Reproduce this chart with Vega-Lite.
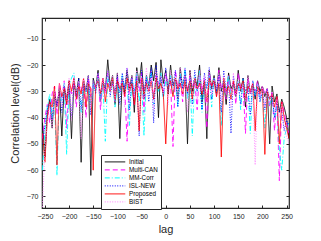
{
"$schema": "https://vega.github.io/schema/vega-lite/v6.json",
"autosize": "none",
"padding": {"left": 42, "top": 18, "right": 32, "bottom": 33},
"width": 247,
"height": 190,
"config": {
  "view": {"stroke": "#262626", "strokeWidth": 1.2},
  "font": "Liberation Sans",
  "axis": {"labelFont": "Liberation Sans", "labelFontSize": 7, "labelColor": "#262626", "titleFont": "Liberation Sans", "titleFontSize": 11, "titleFontWeight": "normal", "titleColor": "#262626", "domain": false, "grid": false, "tickColor": "#262626", "tickSize": -3, "tickWidth": 1}
},
"data": {"values": [
{"s":"Initial","x":-255,"y":-42},{"s":"Initial","x":-250,"y":-55},{"s":"Initial","x":-245,"y":-38},{"s":"Initial","x":-240,"y":-33},{"s":"Initial","x":-235,"y":-44},{"s":"Initial","x":-230,"y":-30},{"s":"Initial","x":-225,"y":-36},{"s":"Initial","x":-220,"y":-29},{"s":"Initial","x":-215,"y":-47},{"s":"Initial","x":-210,"y":-28},
{"s":"Initial","x":-205,"y":-33},{"s":"Initial","x":-200,"y":-26},{"s":"Initial","x":-195,"y":-48},{"s":"Initial","x":-190,"y":-27},{"s":"Initial","x":-185,"y":-31},{"s":"Initial","x":-180,"y":-25},{"s":"Initial","x":-175,"y":-57},{"s":"Initial","x":-170,"y":-26},{"s":"Initial","x":-165,"y":-30},{"s":"Initial","x":-160,"y":-24},
{"s":"Initial","x":-155,"y":-62},{"s":"Initial","x":-150,"y":-25},{"s":"Initial","x":-145,"y":-29},{"s":"Initial","x":-140,"y":-22},{"s":"Initial","x":-135,"y":-34},{"s":"Initial","x":-130,"y":-26},{"s":"Initial","x":-125,"y":-30},{"s":"Initial","x":-120,"y":-18},{"s":"Initial","x":-115,"y":-28},{"s":"Initial","x":-110,"y":-24},
{"s":"Initial","x":-105,"y":-35},{"s":"Initial","x":-100,"y":-23},{"s":"Initial","x":-95,"y":-48},{"s":"Initial","x":-90,"y":-25},{"s":"Initial","x":-85,"y":-31},{"s":"Initial","x":-80,"y":-22},{"s":"Initial","x":-75,"y":-29},{"s":"Initial","x":-70,"y":-24},{"s":"Initial","x":-65,"y":-38},{"s":"Initial","x":-60,"y":-21},
{"s":"Initial","x":-55,"y":-27},{"s":"Initial","x":-50,"y":-19},{"s":"Initial","x":-45,"y":-33},{"s":"Initial","x":-40,"y":-24},{"s":"Initial","x":-35,"y":-28},{"s":"Initial","x":-30,"y":-20},{"s":"Initial","x":-25,"y":-26},{"s":"Initial","x":-20,"y":-19},{"s":"Initial","x":-15,"y":-40},{"s":"Initial","x":-10,"y":-18},
{"s":"Initial","x":-5,"y":-27},{"s":"Initial","x":0,"y":-22},{"s":"Initial","x":5,"y":-31},{"s":"Initial","x":10,"y":-20},{"s":"Initial","x":15,"y":-28},{"s":"Initial","x":20,"y":-25},{"s":"Initial","x":25,"y":-33},{"s":"Initial","x":30,"y":-21},{"s":"Initial","x":35,"y":-29},{"s":"Initial","x":40,"y":-24},
{"s":"Initial","x":45,"y":-50},{"s":"Initial","x":50,"y":-22},{"s":"Initial","x":55,"y":-30},{"s":"Initial","x":60,"y":-25},{"s":"Initial","x":65,"y":-28},{"s":"Initial","x":70,"y":-20},{"s":"Initial","x":75,"y":-34},{"s":"Initial","x":80,"y":-26},{"s":"Initial","x":85,"y":-48},{"s":"Initial","x":90,"y":-22},
{"s":"Initial","x":95,"y":-29},{"s":"Initial","x":100,"y":-24},{"s":"Initial","x":105,"y":-31},{"s":"Initial","x":110,"y":-21},{"s":"Initial","x":115,"y":-30},{"s":"Initial","x":120,"y":-26},{"s":"Initial","x":125,"y":-35},{"s":"Initial","x":130,"y":-23},{"s":"Initial","x":135,"y":-29},{"s":"Initial","x":140,"y":-27},
{"s":"Initial","x":145,"y":-32},{"s":"Initial","x":150,"y":-22},{"s":"Initial","x":155,"y":-30},{"s":"Initial","x":160,"y":-25},{"s":"Initial","x":165,"y":-36},{"s":"Initial","x":170,"y":-24},{"s":"Initial","x":175,"y":-31},{"s":"Initial","x":180,"y":-27},{"s":"Initial","x":185,"y":-33},{"s":"Initial","x":190,"y":-26},
{"s":"Initial","x":195,"y":-30},{"s":"Initial","x":200,"y":-28},{"s":"Initial","x":205,"y":-32},{"s":"Initial","x":210,"y":-29},{"s":"Initial","x":215,"y":-50},{"s":"Initial","x":220,"y":-28},{"s":"Initial","x":225,"y":-34},{"s":"Initial","x":230,"y":-31},{"s":"Initial","x":235,"y":-38},{"s":"Initial","x":240,"y":-33},
{"s":"Initial","x":245,"y":-36},{"s":"Initial","x":250,"y":-40},{"s":"Initial","x":255,"y":-48},

{"s":"Multi-CAN","x":-255,"y":-48},{"s":"Multi-CAN","x":-250,"y":-40},{"s":"Multi-CAN","x":-245,"y":-35},{"s":"Multi-CAN","x":-240,"y":-42},{"s":"Multi-CAN","x":-235,"y":-31},{"s":"Multi-CAN","x":-230,"y":-28},{"s":"Multi-CAN","x":-225,"y":-39},{"s":"Multi-CAN","x":-220,"y":-27},{"s":"Multi-CAN","x":-215,"y":-33},{"s":"Multi-CAN","x":-210,"y":-26},
{"s":"Multi-CAN","x":-205,"y":-44},{"s":"Multi-CAN","x":-200,"y":-28},{"s":"Multi-CAN","x":-195,"y":-31},{"s":"Multi-CAN","x":-190,"y":-25},{"s":"Multi-CAN","x":-185,"y":-36},{"s":"Multi-CAN","x":-180,"y":-27},{"s":"Multi-CAN","x":-175,"y":-30},{"s":"Multi-CAN","x":-170,"y":-26},{"s":"Multi-CAN","x":-165,"y":-40},{"s":"Multi-CAN","x":-160,"y":-25},
{"s":"Multi-CAN","x":-155,"y":-32},{"s":"Multi-CAN","x":-150,"y":-27},{"s":"Multi-CAN","x":-145,"y":-29},{"s":"Multi-CAN","x":-140,"y":-24},{"s":"Multi-CAN","x":-135,"y":-37},{"s":"Multi-CAN","x":-130,"y":-26},{"s":"Multi-CAN","x":-125,"y":-31},{"s":"Multi-CAN","x":-120,"y":-23},{"s":"Multi-CAN","x":-115,"y":-29},{"s":"Multi-CAN","x":-110,"y":-27},
{"s":"Multi-CAN","x":-105,"y":-34},{"s":"Multi-CAN","x":-100,"y":-25},{"s":"Multi-CAN","x":-95,"y":-30},{"s":"Multi-CAN","x":-90,"y":-26},{"s":"Multi-CAN","x":-85,"y":-28},{"s":"Multi-CAN","x":-80,"y":-49},{"s":"Multi-CAN","x":-75,"y":-27},{"s":"Multi-CAN","x":-70,"y":-25},{"s":"Multi-CAN","x":-65,"y":-35},{"s":"Multi-CAN","x":-60,"y":-24},
{"s":"Multi-CAN","x":-55,"y":-30},{"s":"Multi-CAN","x":-50,"y":-23},{"s":"Multi-CAN","x":-45,"y":-38},{"s":"Multi-CAN","x":-40,"y":-26},{"s":"Multi-CAN","x":-35,"y":-29},{"s":"Multi-CAN","x":-30,"y":-22},{"s":"Multi-CAN","x":-25,"y":-33},{"s":"Multi-CAN","x":-20,"y":-24},{"s":"Multi-CAN","x":-15,"y":-27},{"s":"Multi-CAN","x":-10,"y":-25},
{"s":"Multi-CAN","x":-5,"y":-31},{"s":"Multi-CAN","x":0,"y":-23},{"s":"Multi-CAN","x":5,"y":-28},{"s":"Multi-CAN","x":10,"y":-26},{"s":"Multi-CAN","x":15,"y":-51},{"s":"Multi-CAN","x":20,"y":-22},{"s":"Multi-CAN","x":25,"y":-29},{"s":"Multi-CAN","x":30,"y":-25},{"s":"Multi-CAN","x":35,"y":-34},{"s":"Multi-CAN","x":40,"y":-21},
{"s":"Multi-CAN","x":45,"y":-30},{"s":"Multi-CAN","x":50,"y":-24},{"s":"Multi-CAN","x":55,"y":-28},{"s":"Multi-CAN","x":60,"y":-26},{"s":"Multi-CAN","x":65,"y":-37},{"s":"Multi-CAN","x":70,"y":-22},{"s":"Multi-CAN","x":75,"y":-30},{"s":"Multi-CAN","x":80,"y":-25},{"s":"Multi-CAN","x":85,"y":-44},{"s":"Multi-CAN","x":90,"y":-23},
{"s":"Multi-CAN","x":95,"y":-28},{"s":"Multi-CAN","x":100,"y":-26},{"s":"Multi-CAN","x":105,"y":-32},{"s":"Multi-CAN","x":110,"y":-22},{"s":"Multi-CAN","x":115,"y":-29},{"s":"Multi-CAN","x":120,"y":-27},{"s":"Multi-CAN","x":125,"y":-33},{"s":"Multi-CAN","x":130,"y":-24},{"s":"Multi-CAN","x":135,"y":-30},{"s":"Multi-CAN","x":140,"y":-26},
{"s":"Multi-CAN","x":145,"y":-35},{"s":"Multi-CAN","x":150,"y":-23},{"s":"Multi-CAN","x":155,"y":-29},{"s":"Multi-CAN","x":160,"y":-28},{"s":"Multi-CAN","x":165,"y":-46},{"s":"Multi-CAN","x":170,"y":-25},{"s":"Multi-CAN","x":175,"y":-31},{"s":"Multi-CAN","x":180,"y":-27},{"s":"Multi-CAN","x":185,"y":-30},{"s":"Multi-CAN","x":190,"y":-26},
{"s":"Multi-CAN","x":195,"y":-33},{"s":"Multi-CAN","x":200,"y":-28},{"s":"Multi-CAN","x":205,"y":-31},{"s":"Multi-CAN","x":210,"y":-29},{"s":"Multi-CAN","x":215,"y":-36},{"s":"Multi-CAN","x":220,"y":-30},{"s":"Multi-CAN","x":225,"y":-45},{"s":"Multi-CAN","x":230,"y":-32},{"s":"Multi-CAN","x":235,"y":-64},{"s":"Multi-CAN","x":240,"y":-34},
{"s":"Multi-CAN","x":245,"y":-38},{"s":"Multi-CAN","x":250,"y":-42},{"s":"Multi-CAN","x":255,"y":-46},

{"s":"MM-Corr","x":-255,"y":-60},{"s":"MM-Corr","x":-250,"y":-45},{"s":"MM-Corr","x":-245,"y":-36},{"s":"MM-Corr","x":-240,"y":-31},{"s":"MM-Corr","x":-235,"y":-40},{"s":"MM-Corr","x":-230,"y":-33},{"s":"MM-Corr","x":-225,"y":-62},{"s":"MM-Corr","x":-220,"y":-29},{"s":"MM-Corr","x":-215,"y":-34},{"s":"MM-Corr","x":-210,"y":-27},
{"s":"MM-Corr","x":-205,"y":-54},{"s":"MM-Corr","x":-200,"y":-28},{"s":"MM-Corr","x":-195,"y":-25},{"s":"MM-Corr","x":-190,"y":-23},{"s":"MM-Corr","x":-185,"y":-32},{"s":"MM-Corr","x":-180,"y":-29},{"s":"MM-Corr","x":-175,"y":-38},{"s":"MM-Corr","x":-170,"y":-26},{"s":"MM-Corr","x":-165,"y":-31},{"s":"MM-Corr","x":-160,"y":-28},
{"s":"MM-Corr","x":-155,"y":-35},{"s":"MM-Corr","x":-150,"y":-27},{"s":"MM-Corr","x":-145,"y":-30},{"s":"MM-Corr","x":-140,"y":-25},{"s":"MM-Corr","x":-135,"y":-33},{"s":"MM-Corr","x":-130,"y":-27},{"s":"MM-Corr","x":-125,"y":-49},{"s":"MM-Corr","x":-120,"y":-24},{"s":"MM-Corr","x":-115,"y":-30},{"s":"MM-Corr","x":-110,"y":-26},
{"s":"MM-Corr","x":-105,"y":-36},{"s":"MM-Corr","x":-100,"y":-27},{"s":"MM-Corr","x":-95,"y":-31},{"s":"MM-Corr","x":-90,"y":-24},{"s":"MM-Corr","x":-85,"y":-29},{"s":"MM-Corr","x":-80,"y":-26},{"s":"MM-Corr","x":-75,"y":-43},{"s":"MM-Corr","x":-70,"y":-25},{"s":"MM-Corr","x":-65,"y":-30},{"s":"MM-Corr","x":-60,"y":-23},
{"s":"MM-Corr","x":-55,"y":-34},{"s":"MM-Corr","x":-50,"y":-26},{"s":"MM-Corr","x":-45,"y":-47},{"s":"MM-Corr","x":-40,"y":-24},{"s":"MM-Corr","x":-35,"y":-29},{"s":"MM-Corr","x":-30,"y":-22},{"s":"MM-Corr","x":-25,"y":-35},{"s":"MM-Corr","x":-20,"y":-25},{"s":"MM-Corr","x":-15,"y":-30},{"s":"MM-Corr","x":-10,"y":-23},
{"s":"MM-Corr","x":-5,"y":-33},{"s":"MM-Corr","x":0,"y":-26},{"s":"MM-Corr","x":5,"y":-28},{"s":"MM-Corr","x":10,"y":-24},{"s":"MM-Corr","x":15,"y":-31},{"s":"MM-Corr","x":20,"y":-25},{"s":"MM-Corr","x":25,"y":-36},{"s":"MM-Corr","x":30,"y":-23},{"s":"MM-Corr","x":35,"y":-29},{"s":"MM-Corr","x":40,"y":-21},
{"s":"MM-Corr","x":45,"y":-33},{"s":"MM-Corr","x":50,"y":-25},{"s":"MM-Corr","x":55,"y":-47},{"s":"MM-Corr","x":60,"y":-24},{"s":"MM-Corr","x":65,"y":-30},{"s":"MM-Corr","x":70,"y":-22},{"s":"MM-Corr","x":75,"y":-38},{"s":"MM-Corr","x":80,"y":-26},{"s":"MM-Corr","x":85,"y":-29},{"s":"MM-Corr","x":90,"y":-24},
{"s":"MM-Corr","x":95,"y":-36},{"s":"MM-Corr","x":100,"y":-25},{"s":"MM-Corr","x":105,"y":-31},{"s":"MM-Corr","x":110,"y":-27},{"s":"MM-Corr","x":115,"y":-43},{"s":"MM-Corr","x":120,"y":-26},{"s":"MM-Corr","x":125,"y":-29},{"s":"MM-Corr","x":130,"y":-24},{"s":"MM-Corr","x":135,"y":-33},{"s":"MM-Corr","x":140,"y":-27},
{"s":"MM-Corr","x":145,"y":-30},{"s":"MM-Corr","x":150,"y":-26},{"s":"MM-Corr","x":155,"y":-37},{"s":"MM-Corr","x":160,"y":-25},{"s":"MM-Corr","x":165,"y":-31},{"s":"MM-Corr","x":170,"y":-28},{"s":"MM-Corr","x":175,"y":-46},{"s":"MM-Corr","x":180,"y":-26},{"s":"MM-Corr","x":185,"y":-32},{"s":"MM-Corr","x":190,"y":-27},
{"s":"MM-Corr","x":195,"y":-34},{"s":"MM-Corr","x":200,"y":-29},{"s":"MM-Corr","x":205,"y":-44},{"s":"MM-Corr","x":210,"y":-30},{"s":"MM-Corr","x":215,"y":-35},{"s":"MM-Corr","x":220,"y":-32},{"s":"MM-Corr","x":225,"y":-40},{"s":"MM-Corr","x":230,"y":-36},{"s":"MM-Corr","x":235,"y":-52},{"s":"MM-Corr","x":240,"y":-60},
{"s":"MM-Corr","x":245,"y":-48},{"s":"MM-Corr","x":250,"y":-44},{"s":"MM-Corr","x":255,"y":-42},

{"s":"ISL-NEW","x":-255,"y":-50},{"s":"ISL-NEW","x":-250,"y":-43},{"s":"ISL-NEW","x":-245,"y":-37},{"s":"ISL-NEW","x":-240,"y":-34},{"s":"ISL-NEW","x":-235,"y":-41},{"s":"ISL-NEW","x":-230,"y":-32},{"s":"ISL-NEW","x":-225,"y":-35},{"s":"ISL-NEW","x":-220,"y":-30},{"s":"ISL-NEW","x":-215,"y":-38},{"s":"ISL-NEW","x":-210,"y":-28},
{"s":"ISL-NEW","x":-205,"y":-35},{"s":"ISL-NEW","x":-200,"y":-27},{"s":"ISL-NEW","x":-195,"y":-40},{"s":"ISL-NEW","x":-190,"y":-26},{"s":"ISL-NEW","x":-185,"y":-32},{"s":"ISL-NEW","x":-180,"y":-25},{"s":"ISL-NEW","x":-175,"y":-37},{"s":"ISL-NEW","x":-170,"y":-27},{"s":"ISL-NEW","x":-165,"y":-30},{"s":"ISL-NEW","x":-160,"y":-24},
{"s":"ISL-NEW","x":-155,"y":-39},{"s":"ISL-NEW","x":-150,"y":-26},{"s":"ISL-NEW","x":-145,"y":-31},{"s":"ISL-NEW","x":-140,"y":-23},{"s":"ISL-NEW","x":-135,"y":-33},{"s":"ISL-NEW","x":-130,"y":-25},{"s":"ISL-NEW","x":-125,"y":-29},{"s":"ISL-NEW","x":-120,"y":-22},{"s":"ISL-NEW","x":-115,"y":-32},{"s":"ISL-NEW","x":-110,"y":-26},
{"s":"ISL-NEW","x":-105,"y":-30},{"s":"ISL-NEW","x":-100,"y":-24},{"s":"ISL-NEW","x":-95,"y":-35},{"s":"ISL-NEW","x":-90,"y":-23},{"s":"ISL-NEW","x":-85,"y":-29},{"s":"ISL-NEW","x":-80,"y":-21},{"s":"ISL-NEW","x":-75,"y":-37},{"s":"ISL-NEW","x":-70,"y":-25},{"s":"ISL-NEW","x":-65,"y":-31},{"s":"ISL-NEW","x":-60,"y":-24},
{"s":"ISL-NEW","x":-55,"y":-47},{"s":"ISL-NEW","x":-50,"y":-22},{"s":"ISL-NEW","x":-45,"y":-30},{"s":"ISL-NEW","x":-40,"y":-25},{"s":"ISL-NEW","x":-35,"y":-34},{"s":"ISL-NEW","x":-30,"y":-21},{"s":"ISL-NEW","x":-25,"y":-42},{"s":"ISL-NEW","x":-20,"y":-20},{"s":"ISL-NEW","x":-15,"y":-29},{"s":"ISL-NEW","x":-10,"y":-24},
{"s":"ISL-NEW","x":-5,"y":-32},{"s":"ISL-NEW","x":0,"y":-21},{"s":"ISL-NEW","x":5,"y":-30},{"s":"ISL-NEW","x":10,"y":-25},{"s":"ISL-NEW","x":15,"y":-28},{"s":"ISL-NEW","x":20,"y":-22},{"s":"ISL-NEW","x":25,"y":-36},{"s":"ISL-NEW","x":30,"y":-24},{"s":"ISL-NEW","x":35,"y":-29},{"s":"ISL-NEW","x":40,"y":-22},
{"s":"ISL-NEW","x":45,"y":-31},{"s":"ISL-NEW","x":50,"y":-25},{"s":"ISL-NEW","x":55,"y":-35},{"s":"ISL-NEW","x":60,"y":-22},{"s":"ISL-NEW","x":65,"y":-30},{"s":"ISL-NEW","x":70,"y":-26},{"s":"ISL-NEW","x":75,"y":-37},{"s":"ISL-NEW","x":80,"y":-23},{"s":"ISL-NEW","x":85,"y":-29},{"s":"ISL-NEW","x":90,"y":-21},
{"s":"ISL-NEW","x":95,"y":-33},{"s":"ISL-NEW","x":100,"y":-25},{"s":"ISL-NEW","x":105,"y":-30},{"s":"ISL-NEW","x":110,"y":-24},{"s":"ISL-NEW","x":115,"y":-38},{"s":"ISL-NEW","x":120,"y":-22},{"s":"ISL-NEW","x":125,"y":-30},{"s":"ISL-NEW","x":130,"y":-26},{"s":"ISL-NEW","x":135,"y":-46},{"s":"ISL-NEW","x":140,"y":-24},
{"s":"ISL-NEW","x":145,"y":-31},{"s":"ISL-NEW","x":150,"y":-27},{"s":"ISL-NEW","x":155,"y":-35},{"s":"ISL-NEW","x":160,"y":-25},{"s":"ISL-NEW","x":165,"y":-30},{"s":"ISL-NEW","x":170,"y":-28},{"s":"ISL-NEW","x":175,"y":-39},{"s":"ISL-NEW","x":180,"y":-26},{"s":"ISL-NEW","x":185,"y":-32},{"s":"ISL-NEW","x":190,"y":-28},
{"s":"ISL-NEW","x":195,"y":-34},{"s":"ISL-NEW","x":200,"y":-30},{"s":"ISL-NEW","x":205,"y":-37},{"s":"ISL-NEW","x":210,"y":-29},{"s":"ISL-NEW","x":215,"y":-33},{"s":"ISL-NEW","x":220,"y":-31},{"s":"ISL-NEW","x":225,"y":-40},{"s":"ISL-NEW","x":230,"y":-34},{"s":"ISL-NEW","x":235,"y":-38},{"s":"ISL-NEW","x":240,"y":-37},
{"s":"ISL-NEW","x":245,"y":-45},{"s":"ISL-NEW","x":250,"y":-41},{"s":"ISL-NEW","x":255,"y":-43},

{"s":"Proposed","x":-255,"y":-46},{"s":"Proposed","x":-250,"y":-57},{"s":"Proposed","x":-245,"y":-40},{"s":"Proposed","x":-240,"y":-34},{"s":"Proposed","x":-235,"y":-36},{"s":"Proposed","x":-230,"y":-28},{"s":"Proposed","x":-225,"y":-58},{"s":"Proposed","x":-220,"y":-27},{"s":"Proposed","x":-215,"y":-32},{"s":"Proposed","x":-210,"y":-29},
{"s":"Proposed","x":-205,"y":-35},{"s":"Proposed","x":-200,"y":-26},{"s":"Proposed","x":-195,"y":-30},{"s":"Proposed","x":-190,"y":-25},{"s":"Proposed","x":-185,"y":-33},{"s":"Proposed","x":-180,"y":-28},{"s":"Proposed","x":-175,"y":-31},{"s":"Proposed","x":-170,"y":-25},{"s":"Proposed","x":-165,"y":-36},{"s":"Proposed","x":-160,"y":-27},
{"s":"Proposed","x":-155,"y":-29},{"s":"Proposed","x":-150,"y":-60},{"s":"Proposed","x":-145,"y":-28},{"s":"Proposed","x":-140,"y":-26},{"s":"Proposed","x":-135,"y":-31},{"s":"Proposed","x":-130,"y":-25},{"s":"Proposed","x":-125,"y":-34},{"s":"Proposed","x":-120,"y":-27},{"s":"Proposed","x":-115,"y":-30},{"s":"Proposed","x":-110,"y":-25},
{"s":"Proposed","x":-105,"y":-33},{"s":"Proposed","x":-100,"y":-26},{"s":"Proposed","x":-95,"y":-29},{"s":"Proposed","x":-90,"y":-27},{"s":"Proposed","x":-85,"y":-32},{"s":"Proposed","x":-80,"y":-25},{"s":"Proposed","x":-75,"y":-30},{"s":"Proposed","x":-70,"y":-27},{"s":"Proposed","x":-65,"y":-35},{"s":"Proposed","x":-60,"y":-26},
{"s":"Proposed","x":-55,"y":-45},{"s":"Proposed","x":-50,"y":-25},{"s":"Proposed","x":-45,"y":-31},{"s":"Proposed","x":-40,"y":-27},{"s":"Proposed","x":-35,"y":-30},{"s":"Proposed","x":-30,"y":-26},{"s":"Proposed","x":-25,"y":-33},{"s":"Proposed","x":-20,"y":-25},{"s":"Proposed","x":-15,"y":-29},{"s":"Proposed","x":-10,"y":-27},
{"s":"Proposed","x":-5,"y":-31},{"s":"Proposed","x":0,"y":-50},{"s":"Proposed","x":5,"y":-28},{"s":"Proposed","x":10,"y":-26},{"s":"Proposed","x":15,"y":-32},{"s":"Proposed","x":20,"y":-25},{"s":"Proposed","x":25,"y":-29},{"s":"Proposed","x":30,"y":-27},{"s":"Proposed","x":35,"y":-31},{"s":"Proposed","x":40,"y":-26},
{"s":"Proposed","x":45,"y":-30},{"s":"Proposed","x":50,"y":-26},{"s":"Proposed","x":55,"y":-33},{"s":"Proposed","x":60,"y":-25},{"s":"Proposed","x":65,"y":-29},{"s":"Proposed","x":70,"y":-27},{"s":"Proposed","x":75,"y":-31},{"s":"Proposed","x":80,"y":-26},{"s":"Proposed","x":85,"y":-34},{"s":"Proposed","x":90,"y":-25},
{"s":"Proposed","x":95,"y":-28},{"s":"Proposed","x":100,"y":-26},{"s":"Proposed","x":105,"y":-32},{"s":"Proposed","x":110,"y":-27},{"s":"Proposed","x":115,"y":-55},{"s":"Proposed","x":120,"y":-25},{"s":"Proposed","x":125,"y":-30},{"s":"Proposed","x":130,"y":-28},{"s":"Proposed","x":135,"y":-33},{"s":"Proposed","x":140,"y":-26},
{"s":"Proposed","x":145,"y":-31},{"s":"Proposed","x":150,"y":-27},{"s":"Proposed","x":155,"y":-29},{"s":"Proposed","x":160,"y":-26},{"s":"Proposed","x":165,"y":-33},{"s":"Proposed","x":170,"y":-28},{"s":"Proposed","x":175,"y":-30},{"s":"Proposed","x":180,"y":-27},{"s":"Proposed","x":185,"y":-45},{"s":"Proposed","x":190,"y":-28},
{"s":"Proposed","x":195,"y":-31},{"s":"Proposed","x":200,"y":-29},{"s":"Proposed","x":205,"y":-54},{"s":"Proposed","x":210,"y":-30},{"s":"Proposed","x":215,"y":-33},{"s":"Proposed","x":220,"y":-31},{"s":"Proposed","x":225,"y":-36},{"s":"Proposed","x":230,"y":-32},{"s":"Proposed","x":235,"y":-50},{"s":"Proposed","x":240,"y":-34},
{"s":"Proposed","x":245,"y":-40},{"s":"Proposed","x":250,"y":-44},{"s":"Proposed","x":255,"y":-48},

{"s":"BIST","x":-255,"y":-74},{"s":"BIST","x":-250,"y":-52},{"s":"BIST","x":-245,"y":-42},{"s":"BIST","x":-240,"y":-35},{"s":"BIST","x":-235,"y":-44},{"s":"BIST","x":-230,"y":-30},{"s":"BIST","x":-225,"y":-38},{"s":"BIST","x":-220,"y":-27},{"s":"BIST","x":-215,"y":-36},{"s":"BIST","x":-210,"y":-26},
{"s":"BIST","x":-205,"y":-33},{"s":"BIST","x":-200,"y":-25},{"s":"BIST","x":-195,"y":-41},{"s":"BIST","x":-190,"y":-24},{"s":"BIST","x":-185,"y":-31},{"s":"BIST","x":-180,"y":-26},{"s":"BIST","x":-175,"y":-48},{"s":"BIST","x":-170,"y":-25},{"s":"BIST","x":-165,"y":-30},{"s":"BIST","x":-160,"y":-24},
{"s":"BIST","x":-155,"y":-36},{"s":"BIST","x":-150,"y":-26},{"s":"BIST","x":-145,"y":-29},{"s":"BIST","x":-140,"y":-23},{"s":"BIST","x":-135,"y":-34},{"s":"BIST","x":-130,"y":-25},{"s":"BIST","x":-125,"y":-31},{"s":"BIST","x":-120,"y":-22},{"s":"BIST","x":-115,"y":-30},{"s":"BIST","x":-110,"y":-24},
{"s":"BIST","x":-105,"y":-33},{"s":"BIST","x":-100,"y":-23},{"s":"BIST","x":-95,"y":-28},{"s":"BIST","x":-90,"y":-25},{"s":"BIST","x":-85,"y":-36},{"s":"BIST","x":-80,"y":-21},{"s":"BIST","x":-75,"y":-30},{"s":"BIST","x":-70,"y":-24},{"s":"BIST","x":-65,"y":-32},{"s":"BIST","x":-60,"y":-22},
{"s":"BIST","x":-55,"y":-29},{"s":"BIST","x":-50,"y":-24},{"s":"BIST","x":-45,"y":-34},{"s":"BIST","x":-40,"y":-21},{"s":"BIST","x":-35,"y":-30},{"s":"BIST","x":-30,"y":-25},{"s":"BIST","x":-25,"y":-37},{"s":"BIST","x":-20,"y":-22},{"s":"BIST","x":-15,"y":-28},{"s":"BIST","x":-10,"y":-24},
{"s":"BIST","x":-5,"y":-31},{"s":"BIST","x":0,"y":-23},{"s":"BIST","x":5,"y":-35},{"s":"BIST","x":10,"y":-22},{"s":"BIST","x":15,"y":-29},{"s":"BIST","x":20,"y":-25},{"s":"BIST","x":25,"y":-33},{"s":"BIST","x":30,"y":-21},{"s":"BIST","x":35,"y":-30},{"s":"BIST","x":40,"y":-24},
{"s":"BIST","x":45,"y":-38},{"s":"BIST","x":50,"y":-22},{"s":"BIST","x":55,"y":-29},{"s":"BIST","x":60,"y":-25},{"s":"BIST","x":65,"y":-33},{"s":"BIST","x":70,"y":-23},{"s":"BIST","x":75,"y":-30},{"s":"BIST","x":80,"y":-24},{"s":"BIST","x":85,"y":-35},{"s":"BIST","x":90,"y":-22},
{"s":"BIST","x":95,"y":-31},{"s":"BIST","x":100,"y":-25},{"s":"BIST","x":105,"y":-29},{"s":"BIST","x":110,"y":-23},{"s":"BIST","x":115,"y":-34},{"s":"BIST","x":120,"y":-24},{"s":"BIST","x":125,"y":-30},{"s":"BIST","x":130,"y":-26},{"s":"BIST","x":135,"y":-36},{"s":"BIST","x":140,"y":-23},
{"s":"BIST","x":145,"y":-32},{"s":"BIST","x":150,"y":-25},{"s":"BIST","x":155,"y":-30},{"s":"BIST","x":160,"y":-27},{"s":"BIST","x":165,"y":-34},{"s":"BIST","x":170,"y":-24},{"s":"BIST","x":175,"y":-31},{"s":"BIST","x":180,"y":-26},{"s":"BIST","x":185,"y":-58},{"s":"BIST","x":190,"y":-27},
{"s":"BIST","x":195,"y":-33},{"s":"BIST","x":200,"y":-28},{"s":"BIST","x":205,"y":-36},{"s":"BIST","x":210,"y":-29},{"s":"BIST","x":215,"y":-34},{"s":"BIST","x":220,"y":-30},{"s":"BIST","x":225,"y":-38},{"s":"BIST","x":230,"y":-33},{"s":"BIST","x":235,"y":-40},{"s":"BIST","x":240,"y":-35},
{"s":"BIST","x":245,"y":-44},{"s":"BIST","x":250,"y":-47},{"s":"BIST","x":255,"y":-50}
]},
"layer": [
  {
    "mark": {"type": "line", "strokeWidth": 0.9, "clip": true},
    "encoding": {
      "x": {"field": "x", "type": "quantitative", "title": "lag", "scale": {"domain": [-256, 255], "nice": false, "zero": false},
            "axis": {"values": [-250,-200,-150,-100,-50,0,50,100,150,200,250], "labelPadding": 7, "titlePadding": 4}},
      "y": {"field": "y", "type": "quantitative", "title": "Correlation level(dB)", "scale": {"domain": [-74.4, -2.1], "nice": false, "zero": false},
            "axis": {"values": [-70,-60,-50,-40,-30,-20,-10], "labelPadding": 7, "titlePadding": 6}},
      "color": {"field": "s", "type": "nominal", "title": null,
        "scale": {"domain": ["Initial","Multi-CAN","MM-Corr","ISL-NEW","Proposed","BIST"], "range": ["#000000","#ff00ff","#00ffff","#0000ff","#ff0000","#ff80ff"]},
        "legend": {"orient": "none", "legendX": 59, "legendY": 137, "symbolType": "stroke", "symbolSize": 420, "symbolStrokeWidth": 1, "labelFontSize": 6.3, "labelColor": "#000000", "labelFont": "Liberation Sans", "clipHeight": 7.8, "rowPadding": 0, "padding": 3, "strokeColor": "#262626", "fillColor": "#ffffff", "labelOffset": 3}},
      "strokeDash": {"field": "s", "type": "nominal", "title": null,
        "scale": {"domain": ["Initial","Multi-CAN","MM-Corr","ISL-NEW","Proposed","BIST"], "range": [[1,0],[5,3],[5,2,1,2],[1,1.5],[1,0],[1,1.5]]}}
    }
  },
  {
    "mark": {"type": "point", "opacity": 0},
    "encoding": {
      "x": {"field": "x", "type": "quantitative", "axis": {"orient": "top", "values": [-250,-200,-150,-100,-50,0,50,100,150,200,250], "labels": false, "title": null}},
      "y": {"field": "y", "type": "quantitative", "axis": {"orient": "right", "values": [-70,-60,-50,-40,-30,-20,-10], "labels": false, "title": null}}
    }
  }
],
"resolve": {"axis": {"x": "independent", "y": "independent"}}
}
